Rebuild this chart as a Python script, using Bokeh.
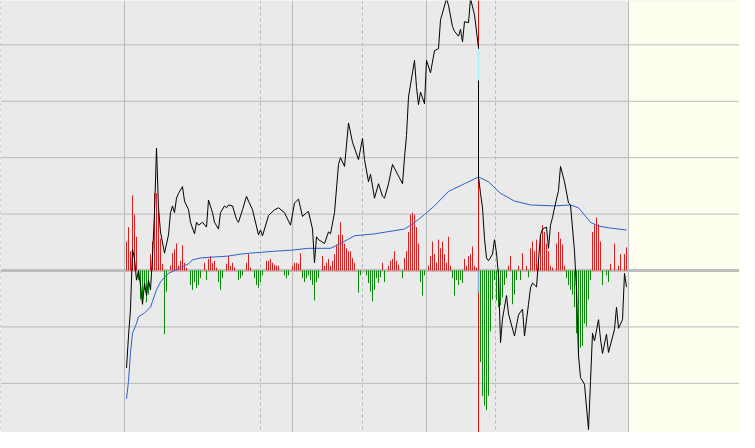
from bokeh.plotting import figure
from bokeh.models import Span, BoxAnnotation, Range1d
from bokeh.embed import file_html
from bokeh.resources import INLINE

# ---- data (x = bar index, y = oscillator units; one grid step = 58.5) ----
bars = [30, 45, 20, 78, 58, 35, -10, -30, -35, -20, -33, -25, 17, 30, 80, 80, 60, 33, 7, -66,
        -22, 0, 5, 18, 22, 28, 5, 10, 26, 8, 3, 0, -15, -20, -12, -18, -15, -8, 0, 8,
        -10, 12, 15, 8, 10, 3, -12, -20, -8, 0, 7, 15, 5, 8, 3, 0, -10, -8, -5, 0,
        8, 17, 3, 0, -8, -15, -18, -12, -5, 0, 10, 10, 12, 8, 6, 5, 5, 0, 0, -5,
        -8, -5, 0, 5, 8, 8, 7, 18, -8, -12, -8, -5, -10, -15, -31, -12, -8, 0, 15, 5,
        8, 12, 5, 10, 17, 27, 37, 50, 37, 28, 23, 20, 20, 13, 8, 0, -23, -5, 0, 0,
        -5, -13, -22, -32, -20, -8, -13, -7, 8, -12, 0, 5, 10, 12, 20, 10, 6, 0, -8, 13,
        20, 40, 58, 60, 58, 45, 28, -12, -26, -5, 0, 5, 15, 30, 17, 8, 32, 23, 30, 17,
        8, 35, 5, -8, -26, -10, -15, -10, -13, 12, 5, 15, 17, 25, 5, 3, 0, -95, -130, -140,
        -145, -130, -63, -30, -10, -31, -38, -36, -28, -15, -8, 5, 15, -35, -25, -10, 5, -10, 18, 0,
        5, -7, 23, 30, 20, 32, 12, 37, 47, 40, 28, 20, 5, 3, 0, 28, 40, 33, 27, 5,
        -8, -15, -20, -25, -38, -65, -90, -80, -78, -55, -58, -30, -10, 40, 47, 55, 48, 30, -15, 0,
        -5, -12, 7, 0, 28, 0, 5, 17, 0, 17, 24]

price_idx = [0, 1, 2, 3, 4, 5, 6, 7, 8, 9, 10, 11, 12, 13, 14, 15, 16, 17, 19, 21,
             22, 23, 24, 25, 26, 28, 29, 31, 32, 34, 35, 36, 38, 40, 41, 43, 44, 46, 47, 49,
             50, 51, 53, 55, 56, 58, 60, 61, 63, 66, 67, 68, 71, 74, 76, 79, 82, 84, 86, 87,
             88, 90, 91, 93, 94, 95, 96, 99, 101, 102, 104, 106, 107, 109, 110, 111, 113, 116, 118, 119,
             121, 122, 124, 126, 128, 129, 131, 133, 136, 138, 139, 140, 141, 144, 145, 146, 147, 149, 150, 152,
             154, 156, 157, 158, 160, 161, 163, 164, 166, 167, 168, 169, 171, 172, 174, 176, 176, 177, 178, 179,
             180, 181, 183, 184, 185, 186, 187, 188, 190, 191, 194, 196, 198, 199, 201, 202, 203, 205, 207, 208,
             210, 211, 212, 213, 214, 216, 217, 219, 221, 222, 224, 225, 226, 227, 229, 231, 232, 233, 234, 236,
             237, 238, 240, 241, 244, 245, 246, 248, 249, 250]
price_val = [-101, -68, -40, 22, 12, -10, 0, -15, -35, -13, -26, -10, -20, 15, 60, 127, 65, 40, 18, 37,
             60, 67, 60, 75, 80, 87, 72, 63, 50, 38, 50, 47, 50, 45, 73, 60, 50, 43, 60, 67,
             65, 68, 67, 53, 50, 63, 77, 72, 63, 37, 42, 36, 57, 63, 65, 60, 47, 70, 74, 65,
             56, 60, 61, 43, 8, 35, 32, 28, 40, 38, 60, 110, 117, 108, 130, 153, 133, 115, 137, 115,
             92, 100, 75, 90, 77, 75, 90, 110, 98, 90, 117, 140, 180, 218, 190, 172, 185, 173, 218, 205,
             228, 230, 260, 267, 282, 275, 253, 248, 243, 250, 237, 258, 257, 282, 265, 231, 97, 80, 65, 33,
             13, 10, 17, 32, 18, -5, -75, -50, -26, -45, -68, -46, -40, -68, -35, -18, -13, -17, 37, 43,
             45, 23, 47, 55, 65, 83, 108, 92, 70, 68, 20, -20, -88, -111, -118, -165, -115, -65, -73, -51,
             -71, -86, -66, -85, -61, -38, -60, -51, -3, -17]

avg_idx = [0, 1, 2, 3, 5, 6, 9, 12, 13, 15, 17, 19, 21, 24, 27, 31, 33, 37, 44, 51,
           57, 62, 74, 82, 91, 102, 107, 114, 124, 139, 142, 146, 149, 154, 161, 169, 176, 181, 187, 194,
           202, 214, 222, 226, 232, 236, 242, 250]
avg_val = [-133, -115, -85, -65, -55, -48, -44, -38, -32, -20, -12, -7, -3, 0, 3, 7, 11, 13, 14, 15,
           17, 18, 20, 21, 23, 23, 28, 36, 38, 43, 47, 53, 58, 67, 82, 90, 97, 92, 80, 72,
           68, 67, 68, 65, 50, 46, 44, 42]

event_idx = 176
event_cyan = [230, 197]
event_blue = [0, -23]

major_x = [-1, 83, 150, 251]
minor_x = [-63, 67, 118, 184.5]
grid_step = 58.5
y_ticks = [-2, -1, 1, 2, 3, 4]
future_start = 251

X0, X1 = -63.0, 306.5
Y0, Y1 = -168, 280

p = figure(width=739, height=432, output_backend="svg", toolbar_location=None,
           x_range=Range1d(X0, X1), y_range=Range1d(Y0, Y1),
           x_axis_location=None, y_axis_location=None, min_border=0)
p.xgrid.visible = False
p.ygrid.visible = False
p.outline_line_color = None
p.background_fill_color = "#EAEAEA"
p.border_fill_color = "#EAEAEA"

p.add_layout(BoxAnnotation(left=future_start, right=X1, bottom=Y0, top=Y1,
                           fill_color="#FFFFF0", fill_alpha=1.0, line_color=None,
                           level="underlay"))

for k in y_ticks:
    p.add_layout(Span(location=k * grid_step, dimension="width", line_color="#B9B9B9",
                      line_width=1, level="underlay"))
for xm in major_x:
    p.add_layout(Span(location=xm, dimension="height", line_color="#B9B9B9",
                      line_width=1, level="underlay"))
for xm in minor_x:
    p.add_layout(Span(location=xm, dimension="height", line_color="#B5B5B5",
                      line_width=1, line_dash="3 3", level="underlay"))
p.add_layout(Span(location=0, dimension="width", line_color="#BDBDBD",
                  line_width=3, level="underlay"))

idx = list(range(len(bars)))
colors = ["#D82020" if v >= 0 else "#0C860C" for v in bars]
p.segment(x0=idx, y0=[0] * len(bars), x1=idx, y1=bars, line_color=colors, line_width=1)

p.segment(x0=[event_idx], y0=[Y0], x1=[event_idx], y1=[Y1], line_color="#D41010", line_width=1)

p.line(avg_idx, avg_val, line_color="#2C5FC8", line_width=1)
p.line(price_idx, price_val, line_color="#000000", line_width=1)

p.segment(x0=[event_idx], y0=[event_cyan[0]], x1=[event_idx], y1=[event_cyan[1]],
          line_color="#A8F2F2", line_width=1.5)
p.segment(x0=[event_idx], y0=[event_blue[0]], x1=[event_idx], y1=[event_blue[1]],
          line_color="#7FA8DC", line_width=1.5)

open("out.html", "w").write(file_html(p, INLINE))
